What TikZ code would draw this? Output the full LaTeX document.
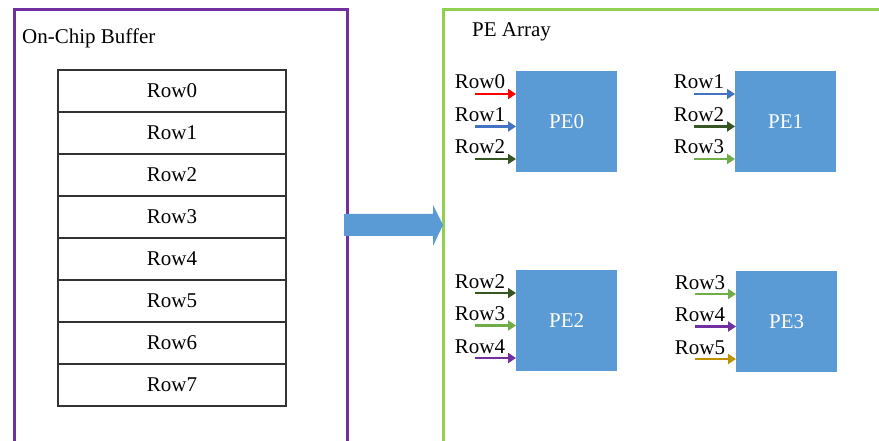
\documentclass[tikz,border=0pt]{standalone}
\usepackage{fontspec}
\setmainfont{Liberation Serif}
\usetikzlibrary{arrows.meta,calc}

\definecolor{bufviolet}{HTML}{7030A0}
\definecolor{arrgreen}{HTML}{92D050}
\definecolor{peblue}{HTML}{5B9BD5}
\definecolor{rowred}{HTML}{FF0000}
\definecolor{rowblue}{HTML}{4472C4}
\definecolor{rowdark}{HTML}{375623}
\definecolor{rowlight}{HTML}{70AD47}
\definecolor{rowpurple}{HTML}{7030A0}
\definecolor{rowgold}{HTML}{BF9000}

\tikzset{
  rowcell/.style={draw=black!80, line width=1.5pt, minimum width=228pt, minimum height=42pt,
                  inner sep=0pt, anchor=center},
  pebox/.style={fill=peblue, text=white, minimum width=101pt, minimum height=101pt,
                inner sep=0pt, anchor=north west},
  feed/.style={line width=2.2pt, -{Triangle[length=8pt,width=10pt]}},
  feedlabel/.style={anchor=base, inner sep=0pt},
}

\begin{document}
\begin{tikzpicture}[x=1pt, y=-1pt, font=\fontsize{21}{24}\selectfont]
\useasboundingbox (0,0) rectangle (879,441);
\clip (0,0) rectangle (879,441);

% outer frames
\draw[bufviolet, line width=3pt] (14,10) rectangle (347,470);
\draw[arrgreen, line width=3pt] (443,10) rectangle (895,470);
\node[anchor=base west, inner sep=0pt] (buftitle) at (22,44) {On-Chip Buffer};
\node[anchor=base west, inner sep=0pt] (petitle) at (472,37) {PE Array};

% buffer rows
\foreach \i in {0,...,7}{
  \node[rowcell] (row\i) at (172,{91+42*\i}) {Row\i};
}

% transfer arrow
\fill[peblue] (344,214) -- (433,214) -- (433,205) -- (443,225)
  -- (433,246) -- (433,236) -- (344,236) -- cycle;

% processing elements
\node[pebox] (pe0) at (516,71) {PE0};
\node[pebox] (pe1) at (735,71) {PE1};
\node[pebox] (pe2) at (516,270) {PE2};
\node[pebox] (pe3) at (736,271) {PE3};

% row inputs of each PE: box, first row index, colours
\foreach \pe/\r/\ca/\cb/\cc in {pe0/0/rowred/rowblue/rowdark,
                                 pe1/1/rowblue/rowdark/rowlight,
                                 pe2/2/rowdark/rowlight/rowpurple,
                                 pe3/3/rowlight/rowpurple/rowgold}{
  \foreach \k/\col [evaluate=\k as \lbl using int(\r+\k)] in {0/\ca,1/\cb,2/\cc}{
    \coordinate (\pe src\k) at ($(\pe.north west)+(-41,{23+32.5*\k})$);
    \draw[feed, \col] (\pe src\k) -- (\pe src\k -| \pe.west);
    \node[feedlabel] (\pe lbl\k) at ($(\pe src\k)+(5,-5)$) {Row\lbl};
  }
}
\end{tikzpicture}
\end{document}
